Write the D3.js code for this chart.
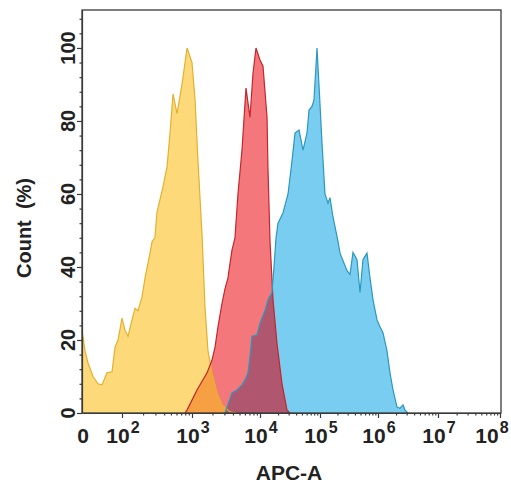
<!DOCTYPE html>
<html>
<head>
<meta charset="utf-8">
<script src="https://cdn.jsdelivr.net/npm/d3@7"></script>
<style>
html, body { margin: 0; padding: 0; background: #fff; }
svg { display: block; font-family: "Liberation Sans", Arial, sans-serif; }
</style>
</head>
<body>
<svg id="chart" width="511" height="486"></svg>
<script>
// x values are log10(APC-A); the "0" label sits at 1.43 on this axis
var xTickVals = [1.43, 2, 3, 4, 5, 6, 7, 8];
var xTickBase = ["0", "10", "10", "10", "10", "10", "10", "10"];
var xTickExp = ["", "2", "3", "4", "5", "6", "7", "8"];
var yTicks = [0, 20, 40, 60, 80, 100];

// isotype control (yellow)
var isoX = [1.43, 1.473, 1.516, 1.587, 1.658, 1.715, 1.786, 1.858, 1.90, 1.943, 2.0, 2.043, 2.086, 2.143,
    2.186, 2.229, 2.286, 2.329, 2.40, 2.43, 2.47, 2.50, 2.586, 2.643, 2.686, 2.729, 2.786, 2.857, 2.929,
    3.0, 3.044, 3.088, 3.147, 3.191, 3.235, 3.294, 3.368, 3.441, 3.559, 3.65];
var isoY = [22.7, 17, 13.7, 10, 8, 7.7, 11, 11.3, 18, 20, 26, 22.7, 21, 25.5,
    28.7, 28, 31.8, 37, 43.8, 47, 48, 55, 62, 67.4, 76.7, 87.4, 82, 90, 100,
    96, 86, 69, 49, 29, 17, 11, 5.5, 2.2, 0.3, 0];

// sample 1 (red)
var redX = [2.90, 2.929, 3.074, 3.221, 3.294, 3.338, 3.382, 3.441, 3.485, 3.529, 3.559, 3.588, 3.632,
    3.676, 3.735, 3.794, 3.853, 3.897, 3.941, 4.0, 4.05, 4.117, 4.133, 4.167, 4.217, 4.283, 4.367,
    4.45, 4.50];
var redY = [0, 0.8, 6.3, 11, 14.5, 18, 23.6, 30, 34, 37, 41, 44.6, 48,
    60, 72, 89, 81, 93, 100, 96.7, 95, 81, 67, 47, 31, 19, 8,
    0.8, 0];

// sample 2 (blue)
var blueX = [3.485, 3.515, 3.588, 3.662, 3.735, 3.779, 3.824, 3.853, 3.882, 3.956, 4.0, 4.083, 4.133,
    4.20, 4.233, 4.267, 4.30, 4.383, 4.467, 4.533, 4.583, 4.65, 4.717, 4.783, 4.817, 4.867, 4.90,
    4.95, 4.983, 5.034, 5.086, 5.138, 5.172, 5.224, 5.31, 5.345, 5.466, 5.517, 5.569, 5.638, 5.69,
    5.741, 5.81, 5.862, 5.914, 5.983, 6.033, 6.083, 6.15, 6.20, 6.25, 6.317, 6.367, 6.417, 6.45, 6.50];
var blueY = [0, 1.6, 5.5, 6.3, 7.7, 9, 11, 15.5, 21, 21.4, 24.6, 28, 31,
    33, 40, 48, 52, 54.8, 60, 69, 76.7, 77.5, 72, 76.7, 83, 84, 85.8,
    100, 90, 74, 60, 57.5, 59, 53.7, 47, 43.8, 39, 38, 44, 42, 33,
    42, 43.8, 37, 31, 25.5, 23.6, 22, 17, 11, 6.3, 1.6, 1.3, 2.2, 0.8, 0];

var svg = d3.select("#chart");
var mLeft = 82, mRight = 501, mTop = 10, mBottom = 413;

// piecewise decade scale (decades are not evenly spaced on the original)
var x = d3.scaleLinear()
    .domain(xTickVals)
    .range([0, 40, 110, 178, 238, 296, 356, 418].map(function (d) { return mLeft + d; }));
var y = d3.scaleLinear().domain([0, 110.4]).range([mBottom, mTop]);

function pts(xs, ys) {
    return xs.map(function (d, i) { return [d, ys[i]]; });
}
var iso = pts(isoX, isoY), red = pts(redX, redY), blue = pts(blueX, blueY);

var area = d3.area()
    .x(function (d) { return x(d[0]); })
    .y0(y(0))
    .y1(function (d) { return y(d[1]); });
var line = d3.line()
    .x(function (d) { return x(d[0]); })
    .y(function (d) { return y(d[1]); });

var defs = svg.append("defs");
defs.append("clipPath").attr("id", "clipIso").append("path").attr("d", area(iso));
defs.append("clipPath").attr("id", "clipBlue").append("path").attr("d", area(blue));

var g = svg.append("g");
g.append("path").attr("d", area(iso)).attr("fill", "#fdd97a");
g.append("path").attr("d", area(red)).attr("fill", "#f4787b");
g.append("path").attr("d", area(blue)).attr("fill", "#78cdf1");
// overlaps
g.append("path").attr("d", area(red)).attr("fill", "#f6a043").attr("clip-path", "url(#clipIso)");
g.append("path").attr("d", area(red)).attr("fill", "#b1566f").attr("clip-path", "url(#clipBlue)");
// outlines
g.append("path").attr("d", line(iso)).attr("fill", "none").attr("stroke", "#e2b12f").attr("stroke-width", 1.2);
g.append("path").attr("d", line(red)).attr("fill", "none").attr("stroke", "#c2262e").attr("stroke-width", 1.2);
g.append("path").attr("d", line(blue)).attr("fill", "none").attr("stroke", "#2b98bd").attr("stroke-width", 1.2);

// frame
svg.append("rect")
    .attr("x", mLeft).attr("y", mTop)
    .attr("width", mRight - mLeft).attr("height", mBottom - mTop)
    .attr("fill", "none").attr("stroke", "#3a3a3a").attr("stroke-width", 1.3);

// y axis
var yMinor = d3.range(0, 110, 4).filter(function (d) { return d % 20 !== 0; });
var yAxis = svg.append("g").attr("transform", "translate(" + mLeft + ",0)");
yAxis.call(d3.axisLeft(y).tickValues(yTicks).tickSize(5).tickSizeOuter(0).tickFormat(""));
yAxis.append("g").call(d3.axisLeft(y).tickValues(yMinor).tickSize(2.5).tickSizeOuter(0).tickFormat(""))
    .select(".domain").remove();
yAxis.selectAll("path, line").attr("stroke", "#3a3a3a").attr("stroke-width", 1.2);

svg.append("g").selectAll("text")
    .data(yTicks)
    .enter()
    .append("text")
    .attr("transform", function (d) { return "translate(75," + y(d) + ") rotate(-90)"; })
    .attr("text-anchor", "middle")
    .attr("font-size", 20)
    .attr("font-weight", "bold")
    .attr("fill", "#222")
    .text(function (d) { return d; });

// x axis
var xMinor = [];
d3.range(2, 8).forEach(function (k) {
    d3.range(2, 10).forEach(function (m) { xMinor.push(k + Math.log10(m)); });
});
var xAxis = svg.append("g").attr("transform", "translate(0," + mBottom + ")");
xAxis.call(d3.axisBottom(x).tickValues(xTickVals.slice(1)).tickSize(5).tickSizeOuter(0).tickFormat(""));
xAxis.append("g").call(d3.axisBottom(x).tickValues(xMinor).tickSize(2.5).tickSizeOuter(0).tickFormat(""))
    .select(".domain").remove();
xAxis.selectAll("path, line").attr("stroke", "#3a3a3a").attr("stroke-width", 1.2);

var xl = svg.append("g").selectAll("text")
    .data(xTickVals)
    .enter()
    .append("text")
    .attr("x", function (d, i) { return Math.min(x(d) + 1, 492); })
    .attr("y", 443)
    .attr("text-anchor", "middle")
    .attr("font-size", 21)
    .attr("font-weight", "bold")
    .attr("fill", "#222");
xl.append("tspan").text(function (d, i) { return xTickBase[i]; });
xl.append("tspan")
    .attr("dy", -10)
    .attr("dx", 1)
    .attr("font-size", 16)
    .text(function (d, i) { return xTickExp[i]; });

// axis titles
svg.append("text")
    .attr("x", 289).attr("y", 480)
    .attr("text-anchor", "middle")
    .attr("font-size", 21)
    .attr("font-weight", "bold")
    .attr("fill", "#222")
    .text("APC-A");
svg.append("text")
    .attr("transform", "translate(31,228) rotate(-90)")
    .attr("text-anchor", "middle")
    .attr("font-size", 20)
    .attr("font-weight", "bold")
    .attr("fill", "#222")
    .attr("xml:space", "preserve")
    .text("Count  (%)");
</script>
</body>
</html>
